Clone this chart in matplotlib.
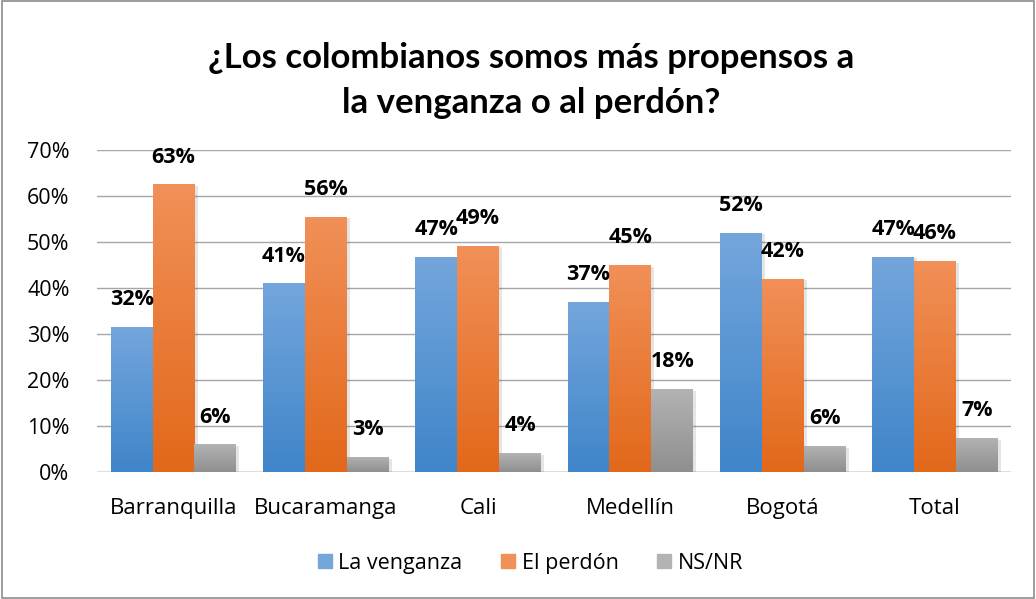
import numpy as np
import matplotlib.pyplot as plt
from matplotlib.colors import LinearSegmentedColormap
from matplotlib.patches import Rectangle

plt.rcParams['font.family'] = ['Open Sans', 'DejaVu Sans']

ciudades = ['Barranquilla', 'Bucaramanga', 'Cali', 'Medellín', 'Bogotá', 'Total']
series = ['La venganza', 'El perdón', 'NS/NR']
venganza = [31.5, 41, 46.8, 37, 52, 46.8]
perdon = [62.5, 55.5, 49.2, 45, 42, 45.9]
nsnr = [6, 3.3, 4.1, 18, 5.7, 7.4]
etiquetas = [
    ['32%', '41%', '47%', '37%', '52%', '47%'],
    ['63%', '56%', '49%', '45%', '42%', '46%'],
    ['6%', '3%', '4%', '18%', '6%', '7%'],
]

# top / bottom colour of each gradient
degradados = [('#74a6dc', '#3f85c9'), ('#f19058', '#e2681a'), ('#b3b3b3', '#8f8f8f')]

fig = plt.figure(figsize=(10.36, 5.99), dpi=100)
ax = fig.add_axes([0.094, 0.212, 0.882, 0.538])

x = np.arange(len(ciudades))
ancho = 0.275
valores = [venganza, perdon, nsnr]

for i, vals in enumerate(valores):
    pos = x + (i - 1) * ancho
    bars = ax.bar(pos, vals, ancho, color=degradados[i][1], label=series[i], zorder=3)
    cmap = LinearSegmentedColormap.from_list('g%d' % i, [degradados[i][1], degradados[i][0]])
    grad = np.linspace(0, 1, 256).reshape(-1, 1)
    for b in bars:
        bx, by = b.get_x(), b.get_y()
        w, h = b.get_width(), b.get_height()
        # soft shadow
        ax.add_patch(Rectangle((bx + 0.02, by), w, h - 0.4, color='#000000', alpha=0.10,
                               zorder=2, lw=0))
        im = ax.imshow(grad, extent=[bx, bx + w, by, by + h], origin='lower',
                       aspect='auto', cmap=cmap, zorder=4)
        im.set_clip_path(b)
    for p, v, t in zip(pos, vals, etiquetas[i]):
        ax.text(p, v + 5.9, t, ha='center', va='center', fontsize=15.5,
                fontweight='bold', zorder=5)

ax.set_xlim(-0.5, len(ciudades) - 0.5)
ax.set_ylim(0, 70)
ax.set_yticks(range(0, 80, 10))
ax.set_yticklabels(['%d%%' % v for v in range(0, 80, 10)], fontsize=15.5)
ax.set_xticks(x)
ax.set_xticklabels(ciudades, fontsize=16)
ax.tick_params(length=0)
ax.tick_params(axis='x', pad=19)
ax.tick_params(axis='y', pad=20)
ax.grid(axis='y', color='#a6a6a6', lw=1, zorder=0)
for s in ax.spines.values():
    s.set_visible(False)
ax.axhline(0, color='#a6a6a6', lw=1, zorder=1)

fig.text(0.513, 0.865, '¿Los colombianos somos más propensos a\nla venganza o al perdón?',
         ha='center', va='center', fontsize=25, fontweight='bold', linespacing=1.5,
         family=['Lato', 'DejaVu Sans'])

handles = [Rectangle((0, 0), 1, 1, color=degradados[i][0]) for i in range(3)]
fig.legend(handles, series, loc='center', bbox_to_anchor=(0.512, 0.06), ncol=3,
           frameon=False, fontsize=15.5, handlelength=0.65, handleheight=0.65,
           handletextpad=0.3, columnspacing=1.8)

fig.patches.append(Rectangle((0.002, 0.002), 0.996, 0.996, transform=fig.transFigure,
                             fill=False, edgecolor='#8c8c8c', lw=1.2))

fig.savefig('out.png', dpi=100)
